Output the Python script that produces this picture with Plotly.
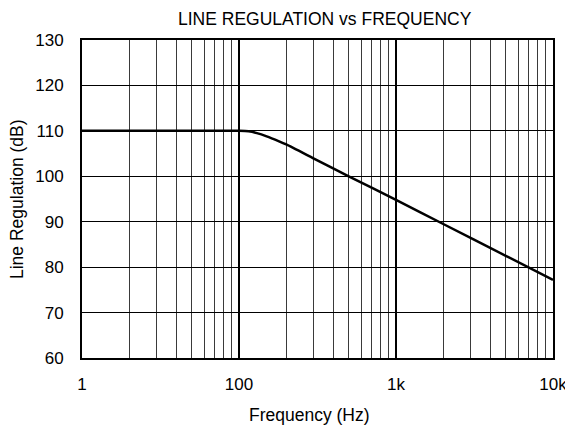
import plotly.graph_objects as go

# Data
freq_hz = [10, 20, 50, 100, 115, 130, 150, 180, 200, 300, 500, 1000, 2000, 5000, 10000]
line_reg_db = [110, 110, 110, 110, 109.9, 109.5, 108.8, 107.7, 107.0, 103.9, 100.0, 94.8, 89.5, 82.5, 77.2]

x_tick_vals = [10, 100, 1000, 10000]
x_tick_text = ["1", "100", "1k", "10k"]
x_minor_vals = [m * d for d in (10, 100, 1000) for m in range(2, 10)]
y_tick_vals = [60, 70, 80, 90, 100, 110, 120, 130]

fig = go.Figure()
fig.add_trace(go.Scatter(
    x=freq_hz, y=line_reg_db, mode="lines",
    line=dict(color="black", width=2.5, shape="spline", smoothing=0.6),
    showlegend=False, hoverinfo="skip",
))

font_family = "Liberation Sans, Arial, sans-serif"

fig.update_layout(
    width=565, height=425,
    margin=dict(l=82, r=12, t=40, b=67, autoexpand=False),
    paper_bgcolor="white", plot_bgcolor="white",
    font=dict(family=font_family, color="black", size=17),
    annotations=[
        dict(text="LINE REGULATION vs FREQUENCY", xref="paper", yref="paper",
             x=0.516, y=1.0676, xanchor="center", yanchor="middle",
             showarrow=False, font=dict(size=17.5, color="black")),
        dict(text="Frequency (Hz)", xref="paper", yref="paper",
             x=0.484, y=-0.1777, xanchor="center", yanchor="middle",
             showarrow=False, font=dict(size=17.5, color="black")),
        dict(text="Line Regulation (dB)", xref="paper", yref="paper",
             x=-0.138, y=0.5, xanchor="center", yanchor="middle", textangle=-90,
             showarrow=False, font=dict(size=17.5, color="black")),
    ],
)

fig.update_xaxes(
    type="log", range=[1, 4], automargin=False,
    tickmode="array", tickvals=x_tick_vals, ticktext=x_tick_text,
    ticklabeloverflow="allow",
    showgrid=True, gridcolor="black", gridwidth=2,
    showline=True, linecolor="black", linewidth=2, mirror=True,
    ticks="", ticklabelstandoff=10,
    tickfont=dict(size=17),
    minor=dict(tickvals=x_minor_vals, showgrid=True, gridcolor="#3a3a3a", gridwidth=1, ticks=""),
    zeroline=False,
)
fig.update_yaxes(
    range=[60, 130], tickmode="array", tickvals=y_tick_vals, automargin=False,
    showgrid=True, gridcolor="black", gridwidth=1,
    showline=True, linecolor="black", linewidth=2, mirror=True,
    ticks="", ticklabelstandoff=13,
    tickfont=dict(size=17),
    zeroline=False,
)

fig.write_html(
    "out.html",
    config={"displayModeBar": False},
    post_script="document.body.style.margin='0';document.body.style.overflow='hidden';",
)
